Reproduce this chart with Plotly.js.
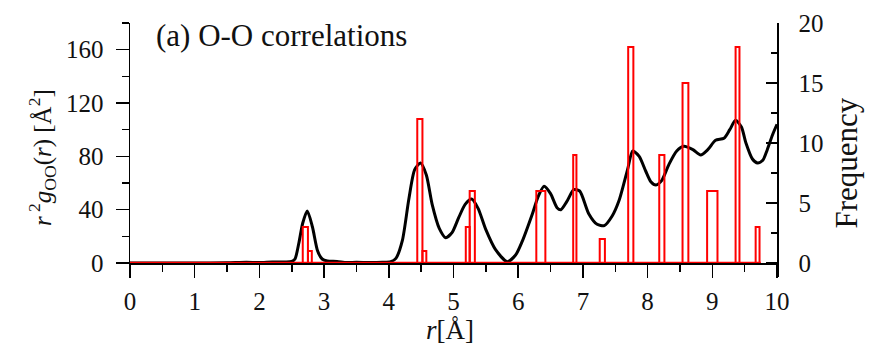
<!DOCTYPE html>
<html>
<head>
<meta charset="utf-8">
<script src="https://cdn.plot.ly/plotly-3.0.1.min.js"></script>
<style>html,body{margin:0;padding:0;background:#fff;}#chart{width:872px;height:350px;}</style>
</head>
<body>
<div id="chart"></div>
<script>
// r^2 g_OO(r) curve (left axis)
const curveR = [0,0.5,1.0,1.5,1.8,2.0,2.2,2.4,2.5,2.55,2.61,2.67,2.74,2.82,2.90,2.97,3.05,3.2,3.35,3.5,3.7,3.9,4.03,4.11,4.21,4.31,4.40,4.49,4.58,4.67,4.78,4.88,4.98,5.08,5.18,5.28,5.38,5.50,5.65,5.83,5.96,6.06,6.22,6.31,6.40,6.50,6.60,6.66,6.75,6.86,6.95,7.09,7.22,7.33,7.45,7.56,7.69,7.77,7.87,7.97,8.05,8.13,8.22,8.33,8.45,8.56,8.70,8.82,8.93,9.05,9.18,9.27,9.36,9.45,9.52,9.62,9.70,9.78,9.85,9.93,10.0];
const curveG = [0,0,0,0.2,0.6,0.3,0.8,0.8,1.2,3,15,30,39,27,9,3,1.5,1.2,0.3,0.6,0.3,0.5,1,3.5,17,48,70,75,66,44,26,19,23,34,44,48,41,25,10,1,6,16,37,50,57.5,52,41.5,40,46,55,54,37,29,28,35,47,70,84,80,69,61,58.5,62,74,84,87.5,85,81,85,92,93.5,100,107,102,90,78,75,77,85,96,104];

// Frequency histogram (right axis): bin edges and counts
const binLo = [2.67,2.75,4.44,4.52,5.19,5.25,6.28,6.85,7.26,7.70,8.18,8.54,8.92,9.36,9.67];
const binHi = [2.75,2.81,4.52,4.58,5.25,5.33,6.42,6.90,7.34,7.78,8.26,8.63,9.08,9.42,9.73];
const freq  = [3,1,12,1,3,6,6,9,2,18,9,15,6,18,3];
const baseR = [0, 9.75];
const baseF = [0, 0];

// tick labels
const xTicks = [0,1,2,3,4,5,6,7,8,9,10];
const yTicks = [0,40,80,120,160];
const y2Ticks = [0,5,10,15,20];

const FONT = 'Liberation Serif, Times New Roman, serif';
const TXT = '#111';

const binMid = binLo.map((lo,i)=>(lo+binHi[i])/2);
const binW = binLo.map((lo,i)=>binHi[i]-lo);

const traces = [
  {x: curveR, y: curveG, type:'scatter', mode:'lines', yaxis:'y',
   line:{color:'#000', width:3, shape:'spline', smoothing:0.7}, hoverinfo:'skip'},
  {x: binMid, y: freq, width: binW, type:'bar', yaxis:'y2',
   marker:{color:'rgba(255,255,255,0)', line:{color:'#ff0000', width:2}}, hoverinfo:'skip'},
  {x: baseR, y: baseF, type:'scatter', mode:'lines', yaxis:'y2',
   line:{color:'#ff0000', width:2.5}, hoverinfo:'skip'}
];

const yMin = -10.5, yMax = 180;
const layout = {
  width: 872, height: 350,
  margin: {l:130, r:95, t:23, b:73},
  paper_bgcolor:'#fff', plot_bgcolor:'#fff',
  showlegend:false, barmode:'overlay',
  font:{family:FONT, color:TXT, size:25},
  xaxis:{range:[0,10], anchor:'free', position: -yMin/(yMax-yMin),
    tickvals:xTicks, ticktext:xTicks.map(String),
    ticks:'outside', ticklen:13, tickwidth:1.5, tickcolor:'#000',
    minor:{dtick:0.5, ticks:'outside', ticklen:7, tickwidth:1.5, tickcolor:'#000'},
    showline:true, linecolor:'#000', linewidth:1.5, showgrid:false, zeroline:false,
    tickfont:{family:FONT, size:25, color:TXT}, ticklabelstandoff:2},
  yaxis:{range:[yMin,yMax], tickvals:yTicks, ticktext:yTicks.map(String),
    ticks:'outside', ticklen:13, tickwidth:1.5, tickcolor:'#000',
    minor:{tickvals:[20,60,100,140,180], ticks:'outside', ticklen:7, tickwidth:1.5, tickcolor:'#000'},
    showline:true, linecolor:'#000', linewidth:1.5, showgrid:false, zeroline:false,
    tickfont:{family:FONT, size:25, color:TXT}, ticklabelstandoff:7},
  yaxis2:{range:[yMin/9, yMax/9], overlaying:'y', side:'right',
    tickvals:y2Ticks, ticktext:y2Ticks.map(String),
    ticks:'inside', ticklen:11, tickwidth:1.5, tickcolor:'#000',
    minor:{tickvals:[2.5,7.5,12.5,17.5], ticks:'inside', ticklen:6, tickwidth:1.5, tickcolor:'#000'},
    showline:true, linecolor:'#000', linewidth:1.5, showgrid:false, zeroline:false,
    tickfont:{family:FONT, size:25, color:TXT}, ticklabelstandoff:15},
  annotations:[
    {text:'(a) O-O correlations', xref:'paper', yref:'paper', x:(154-130)/647, y:(277-35)/254,
     xanchor:'left', yanchor:'middle', showarrow:false, font:{family:FONT, size:31, color:TXT}},
    {text:'<i>r</i><sup> 2</sup><i>g</i><sub>OO</sub>(<i>r</i>) [Å<sup>2</sup>]', xref:'paper', yref:'paper',
     x:(42-130)/647, y:(277-158)/254, xanchor:'center', yanchor:'middle', textangle:-90,
     showarrow:false, font:{family:FONT, size:25, color:TXT}},
    {text:'Frequency', xref:'paper', yref:'paper', x:(846-130)/647, y:(277-163.5)/254,
     xanchor:'center', yanchor:'middle', textangle:-90, showarrow:false,
     font:{family:FONT, size:31, color:TXT}},
    {text:'<i>r</i>[Å]', xref:'paper', yref:'paper', x:(450-130)/647, y:(277-330)/254,
     xanchor:'center', yanchor:'middle', showarrow:false, font:{family:FONT, size:27, color:TXT}}
  ]
};

Plotly.newPlot('chart', traces, layout, {staticPlot:true, displayModeBar:false});
</script>
</body>
</html>
